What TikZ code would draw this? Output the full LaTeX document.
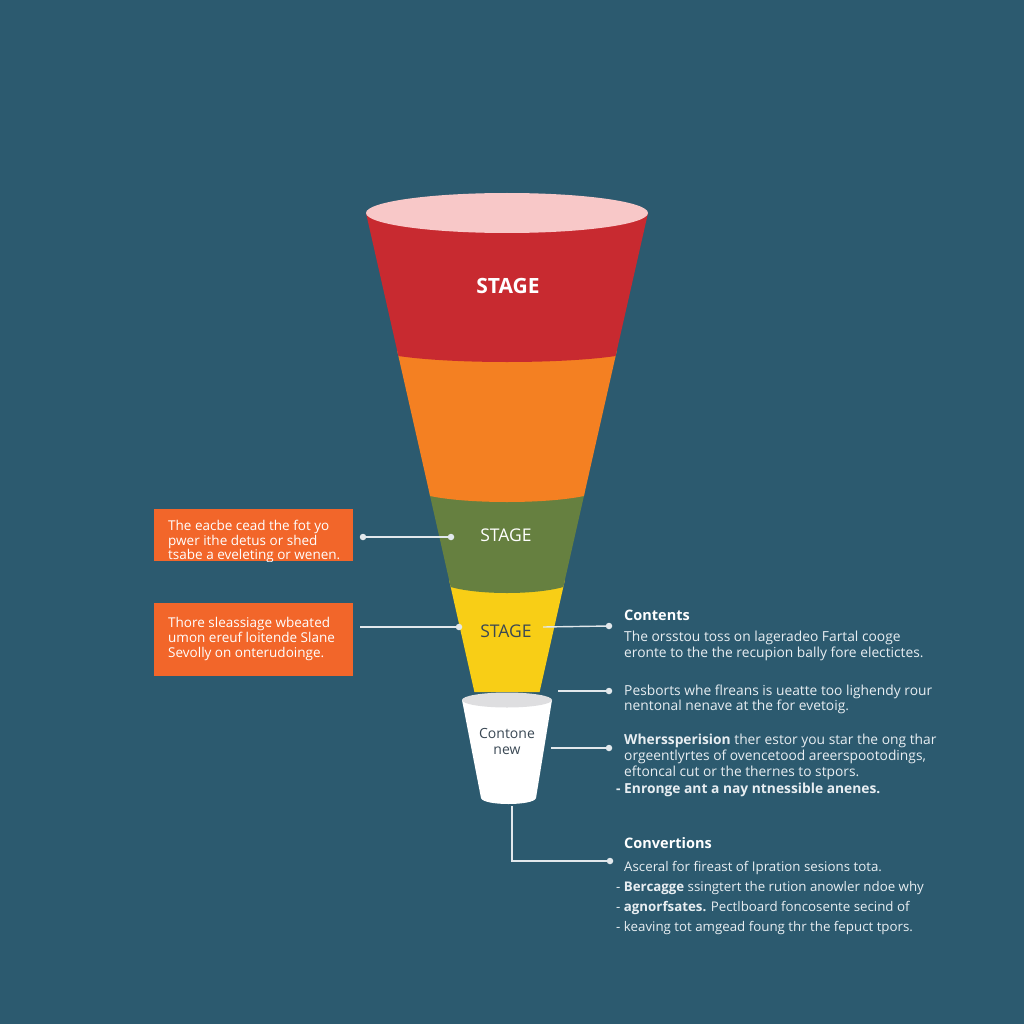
\documentclass[tikz,border=0pt]{standalone}
\usepackage{fontspec}
\setmainfont{Liberation Sans}
\newfontfamily\osans{Open Sans}
\definecolor{bg}{RGB}{44,90,111}
\definecolor{fred}{RGB}{200,42,48}
\definecolor{fpink}{RGB}{248,200,200}
\definecolor{forange}{RGB}{244,128,34}
\definecolor{fgreen}{RGB}{102,128,64}
\definecolor{fyellow}{RGB}{248,206,22}
\definecolor{boxor}{RGB}{242,102,42}
\definecolor{linec}{RGB}{226,232,236}
\definecolor{txt}{RGB}{232,238,242}
\definecolor{cupgray}{RGB}{222,222,224}
\definecolor{cuptxt}{RGB}{58,72,84}
\begin{document}
\begin{tikzpicture}[x=1pt,y=-1pt,
  conn/.style={draw=linec,line width=1.4pt},
  dotc/.style={circle,fill=linec,inner sep=0pt,minimum size=6.5pt},
  notebox/.style={fill=boxor,inner sep=0pt,anchor=north west},
  boxline/.style={anchor=base west,inner sep=0pt,text=white,font=\osans\fontsize{13.5}{16}\selectfont},
  rline/.style={anchor=base west,inner sep=0pt,text=txt,font=\osans\fontsize{13.8}{16}\selectfont},
  rlinesm/.style={anchor=base west,inner sep=0pt,text=txt,font=\osans\fontsize{13.3}{16}\selectfont},
  rhead/.style={anchor=base west,inner sep=0pt,text=white,font=\osans\bfseries\fontsize{14.5}{17}\selectfont},
  stagelbl/.style={inner sep=0pt,font=\osans\fontsize{17.5}{20}\selectfont}]
\fill[bg] (0,0) rectangle (1024,1024);
\useasboundingbox (0,0) rectangle (1024,1024);

% funnel bands (bottom to top)
\fill[fyellow] (449.1,580) -- (474.4,692) -- (539.6,692) -- (564.9,580) -- cycle;
\fill[fgreen] (428.7,490) -- (450.7,587) .. controls (478.9,595) and (535.1,595) .. (563.3,587) -- (585.3,490) -- cycle;
\fill[forange] (397,350) -- (430.1,496) .. controls (468,504) and (546,504) .. (583.9,496) -- (617,350) -- cycle;
\fill[fred] (366,213) -- (398.4,356) .. controls (452,364) and (562,364) .. (615.6,356) -- (648,213) -- cycle;
\fill[fpink] (507,213) ellipse [x radius=141, y radius=20];

% stage labels
\node[stagelbl,font=\osans\bfseries\fontsize{21}{24}\selectfont,text=white] (s1) at (508,286) {STAGE};
\node[stagelbl,text=white] (s3) at (506,535) {STAGE};
\node[stagelbl,text=cuptxt] (s4) at (506,631) {STAGE};

% cup
\fill[white] (462,700) -- (481,798) .. controls (483,806) and (534,806) .. (536,798) -- (552,700) -- cycle;
\fill[cupgray] (507,700) ellipse [x radius=45, y radius=7.5];
\node[inner sep=0pt,anchor=base,text=cuptxt,font=\osans\fontsize{14}{16}\selectfont] (cup1) at (507,738) {Contone};
\node[inner sep=0pt,anchor=base,text=cuptxt,font=\osans\fontsize{14}{16}\selectfont] (cup2) at (507,754) {new};

% left boxes
\node[notebox,minimum width=199pt,minimum height=52pt] (b1) at (154,509) {};
\node[notebox,minimum width=199pt,minimum height=73pt] (b2) at (154,603) {};
\begin{scope}
\clip (154,509) rectangle (353,561);
\node[boxline] (b1l1) at (168,530) {The eacbe cead the fot yo};
\node[boxline] (b1l2) at (168,545) {pwer ithe detus or shed};
\node[boxline] (b1l3) at (168,559.5) {tsabe a eveleting or wenen.};
\end{scope}
\node[boxline] (b2l1) at (168,627) {Thore sleassiage wbeated};
\node[boxline] (b2l2) at (168,642) {umon ereuf loitende Slane};
\node[boxline] (b2l3) at (168,657) {Sevolly on onterudoinge.};

% connector end points
\coordinate (p1a) at (363,537); \coordinate (p1b) at (451,537);
\coordinate (p2a) at (360,627); \coordinate (p2b) at (459,627);
\coordinate (p3a) at (543,627); \coordinate (p3b) at (609,626);
\coordinate (p4a) at (558,691); \coordinate (p4b) at (609,691);
\coordinate (p5a) at (551,748); \coordinate (p5b) at (609,748);
\coordinate (p6a) at (512,806); \coordinate (p6b) at (610,861);

\draw[conn] (p1a) -- (p1b);
\draw[conn] (p2a) -- (p2b);
\draw[conn] (p3a) -- (p3b);
\draw[conn] (p4a) -- (p4b);
\draw[conn] (p5a) -- (p5b);
\draw[conn] (p6a) |- (p6b);
\foreach \p in {p1a,p1b,p2b,p3b,p4b,p5b,p6b} \node[dotc] at (\p) {};

% right texts
\node[rhead] (h1) at (624,620) {Contents};
\node[rline] (r1) at (624,641.5) {The orsstou toss on lageradeo Fartal cooge};
\node[rline] (r2) at (624,657) {eronte to the the recupion bally fore electictes.};
\node[rline] (r3) at (624,695) {Pesborts whe flreans is ueatte too lighendy rour};
\node[rline] (r4) at (624,710.5) {nentonal nenave at the for evetoig.};
\node[rline] (r5) at (624,744.5) {\textbf{Wherssperision} ther estor you star the ong thar};
\node[rline] (r6) at (624,760) {orgeentlyrtes of ovencetood areerspootodings,};
\node[rline] (r7) at (624,776) {eftoncal cut or the thernes to stpors.};
\node[rline] (r8) at (616,793.5) {\textbf{- Enronge ant a nay ntnessible anenes.}};
\node[rhead] (h2) at (624,848) {Convertions};
\node[rlinesm] (r9) at (624,871) {Asceral for fireast of Ipration sesions tota.};
\node[rlinesm] (r10) at (616,891.5) {- \textbf{Bercagge} ssingtert the rution anowler ndoe why};
\node[rlinesm] (r11) at (616,911) {- \textbf{agnorfsates.} Pectlboard foncosente secind of};
\node[rlinesm] (r12) at (616,931) {- keaving tot amgead foung thr the fepuct tpors.};
\end{tikzpicture}
\end{document}
